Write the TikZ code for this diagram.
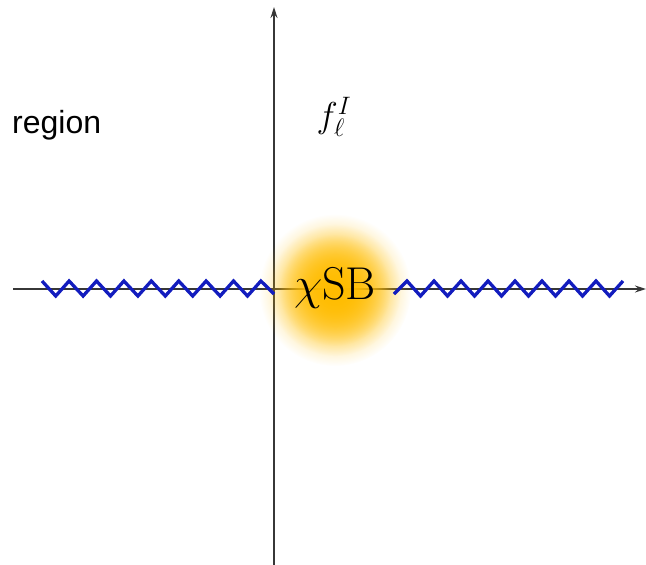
\RequirePackage{fix-cm}
\documentclass[tikz,border=0pt]{standalone}
\usepackage{fontspec}
\usepackage{tikz}
\usetikzlibrary{arrows.meta,fadings}
\newfontfamily\regionfont{Liberation Sans}
\definecolor{glowamber}{RGB}{255,188,0}
\definecolor{zigblue}{RGB}{18,28,190}
\definecolor{axisgray}{RGB}{55,55,55}
\tikzfading[name=glowfade, inner color=transparent!5, outer color=transparent!100]

\begin{document}
\begin{tikzpicture}[
        x=1pt, y=-1pt,
        axis/.style={draw=axisgray, line width=1.4pt, -{Stealth[length=11pt, width=7pt]}},
        zig/.style={draw=zigblue, line width=3.3pt, line join=miter},
        glow/.style={fill=glowamber, path fading=glowfade},
        lbl/.style={inner sep=0pt}
        ]
        \useasboundingbox (0,0) rectangle (646,565);

        % axes
        \coordinate (xstart) at (13,289);
        \coordinate (xend) at (646,289);
        \coordinate (ystart) at (274,565);
        \coordinate (yend) at (274,7);
        \draw[axis] (xstart) -- (xend);
        \draw[axis] (ystart) -- (yend);

        % symmetry breaking glow (layers for a denser core)
        \foreach \r in {76,66,56}
          \fill[glow] (335,290) circle (\r);

        % cuts
        \draw[zig] (42,281) \foreach \k in {0,...,7} {-- ({55.7+27.4*\k},296) -- ({69.1+27.4*\k},281)} -- (274,294);
        \draw[zig] (394,294) \foreach \k in {0,...,7} {-- ({407+27*\k},281) -- ({420.5+27*\k},296)} -- (623,281);

        \node[lbl, anchor=base west, font=\regionfont\fontsize{32}{38}\selectfont] (region) at (12,133) {region};
        \node[lbl, font=\fontsize{36}{42}\selectfont] (fI) at (334,117) {$f_\ell^I$};
        \node[lbl, anchor=base, font=\fontsize{46}{54}\selectfont] (csb) at (335,299) {$\chi$SB};

    \end{tikzpicture}
\end{document}
